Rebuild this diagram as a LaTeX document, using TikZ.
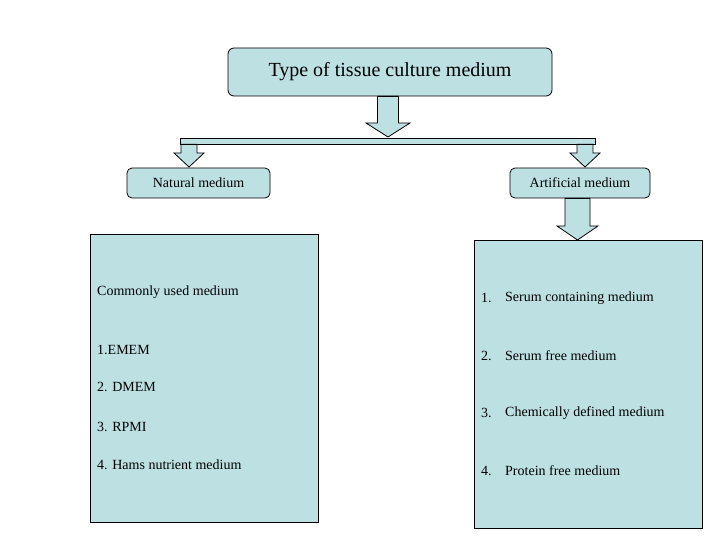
\documentclass[tikz,border=0pt]{standalone}
\usepackage{fontspec}
\setmainfont{Liberation Serif}
\usetikzlibrary{calc, positioning}
\definecolor{boxfill}{HTML}{BDE0E3}
\def\shaft{8pt}
\def\headw{18pt}
\def\headh{14pt}
\tikzset{
	% boxes
	module/.style={
		draw,
		thick,
		fill=boxfill,
		shape=rectangle,
		inner sep=0,
	},
	title_box/.style={
		module,
		rounded corners=6pt,
		minimum width=324pt,
		minimum height=48pt,
		font=\fontsize{20}{24}\selectfont,
	},
	medium_box/.style={
		module,
		rounded corners=5pt,
		minimum height=30pt,
		font=\fontsize{14}{16}\selectfont,
	},
	list_box/.style={
		module,
		minimum width=228pt,
		minimum height=288pt,
	},
	item/.style={
		font=\fontsize{14}{16}\selectfont,
		anchor=west,
		inner sep=0,
	},
	% block arrows
	block_arrow/.style={
		draw,
		thick,
		fill=boxfill,
	},
}
% block arrow from top point #1 to tip #2, half shaft #3, half head #4
\newcommand{\blockarrow}[4]{
	\draw[block_arrow] ($(#1)+(-#3,0)$) -- ($(#2)+(-#3,\headh)$) -- ($(#2)+(-#4,\headh)$)
		-- (#2) -- ($(#2)+(#4,\headh)$) -- ($(#2)+(#3,\headh)$) -- ($(#1)+(#3,0)$) -- cycle;
}
\begin{document}
\begin{tikzpicture}[x=1pt, y=-1pt]
	\useasboundingbox (0,0) rectangle (720,540);
	% Title
	\node[title_box] (title) at (390,72) {Type of tissue culture medium};
	% Bar
	\node[module, minimum width=415pt, minimum height=6pt] (bar) at (387.5,141) {};
	% Level boxes
	\node[medium_box, minimum width=143pt] (natural) at (198.5,183) {Natural medium};
	\node[medium_box, minimum width=140pt] (artificial) at (580,183) {Artificial medium};
	% Lists
	\node[list_box] (natural list) at (204,378) {};
	\node[list_box] (artificial list) at (588.5,384) {};
	% Arrows
	\coordinate (t_tip) at (388,137);
	\blockarrow{title.south-|t_tip}{t_tip}{10.5pt}{22pt}
	\coordinate (n_tip) at (189,167);
	\blockarrow{bar.south-|n_tip}{n_tip}{\shaft}{15pt}
	\coordinate (a_tip) at (585,167);
	\blockarrow{bar.south-|a_tip}{a_tip}{\shaft}{15pt}
	\coordinate (l_tip) at (577.5,240);
	\blockarrow{artificial.south-|l_tip}{l_tip}{12.5pt}{20.5pt}
	% Natural items
	\node[item] (n0) at (97,292) {Commonly used medium};
	\node[item] (n1) at (97,350) {1.EMEM};
	\node[item] (n2) at (97,387) {2. DMEM};
	\node[item] (n3) at (97,427) {3. RPMI};
	\node[item] (n4) at (97,465) {4. Hams nutrient medium};
	% Artificial items
	\foreach \i/\y/\t in {1/298/Serum containing medium, 2/356/Serum free medium,
		3/413/Chemically defined medium, 4/471/Protein free medium} {
		\node[item] (a\i num) at (481,\y) {\i.};
		\node[item] (a\i) at (505,\y) {\t};
	}
\end{tikzpicture}
\end{document}
